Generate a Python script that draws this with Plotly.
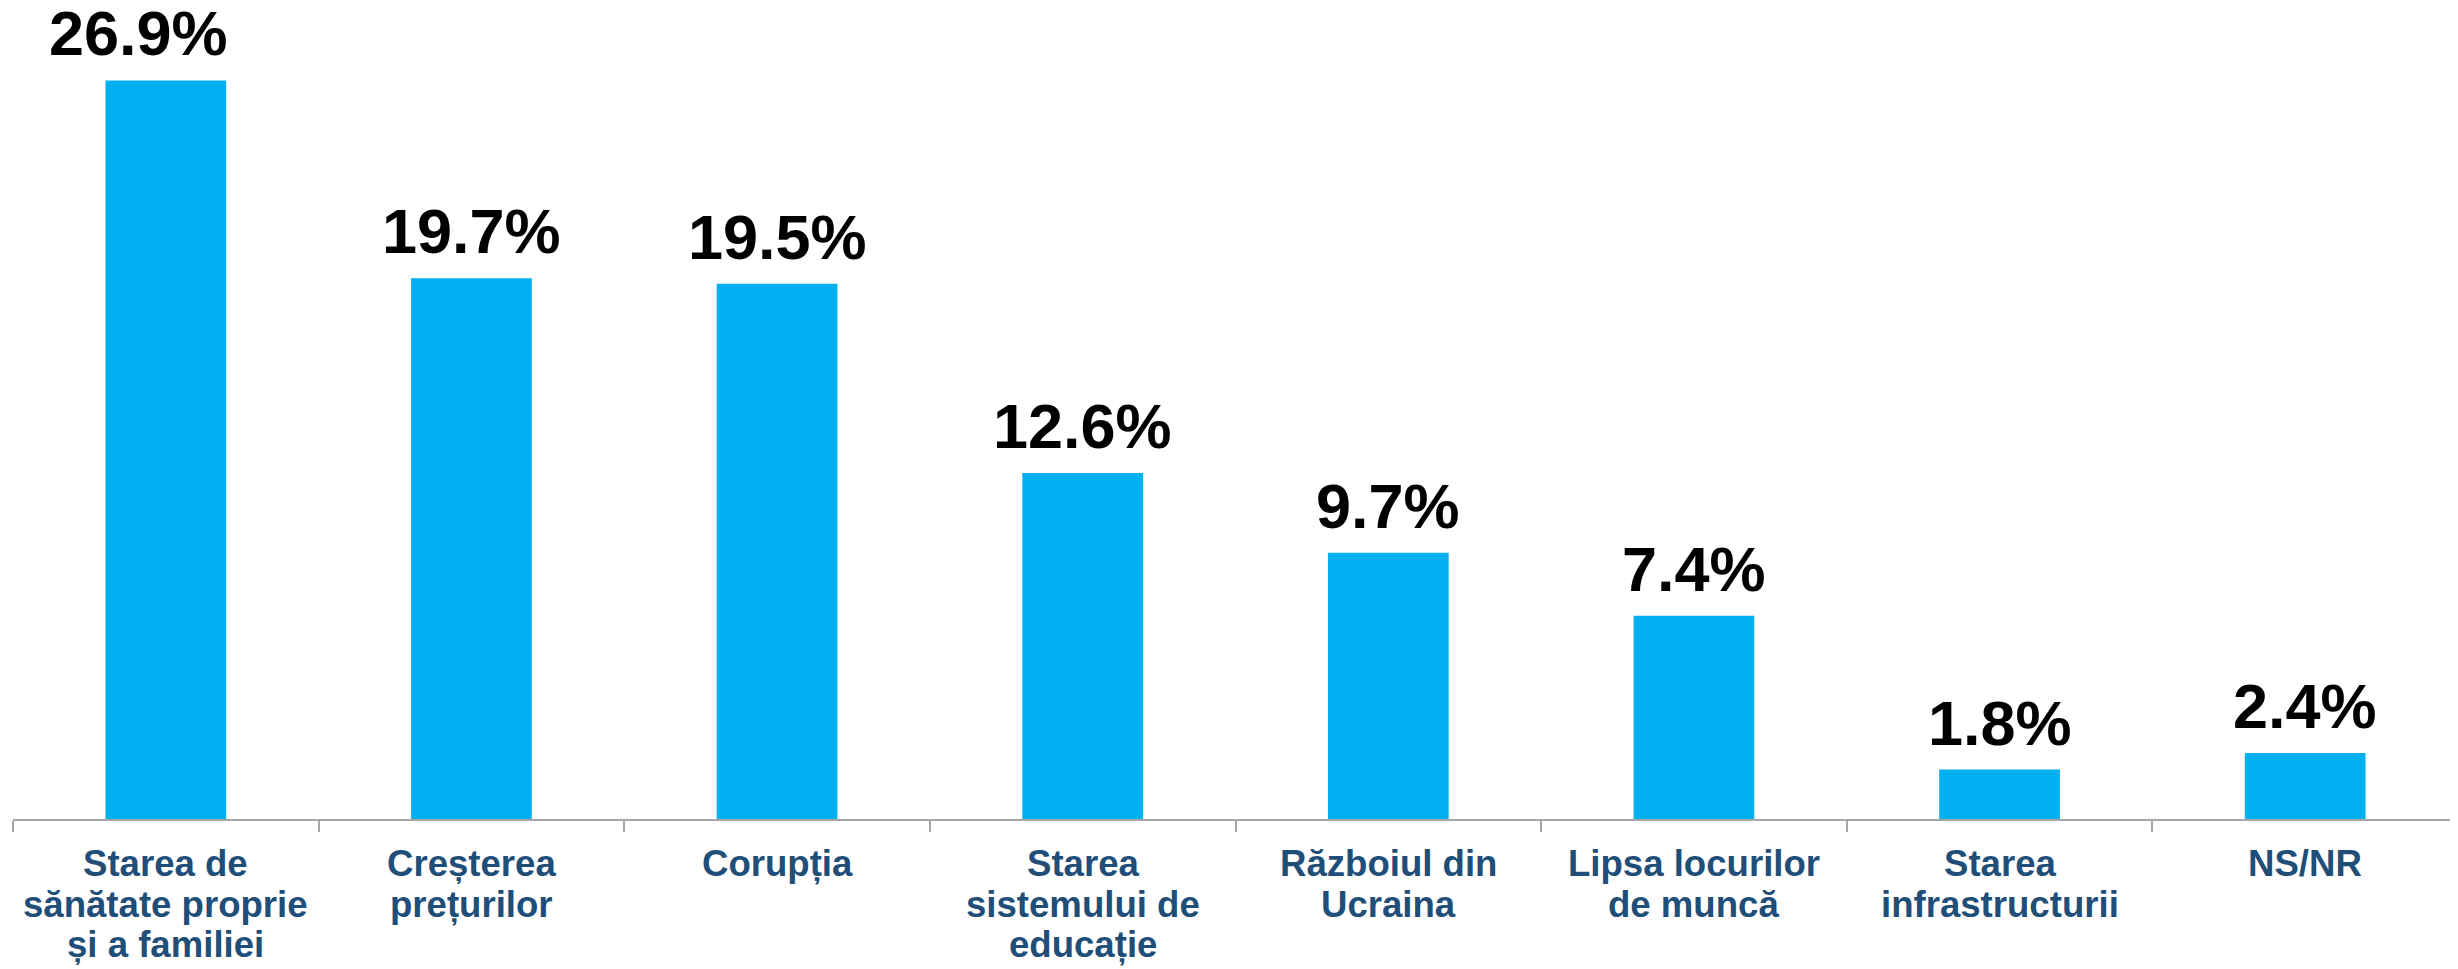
import plotly.graph_objects as go

categories = [
    "Starea de<br>sănătate proprie<br>și a familiei",
    "Creșterea<br>prețurilor",
    "Corupția",
    "Starea<br>sistemului de<br>educație",
    "Războiul din<br>Ucraina",
    "Lipsa locurilor<br>de muncă",
    "Starea<br>infrastructurii",
    "NS/NR",
]
values = [26.9, 19.7, 19.5, 12.6, 9.7, 7.4, 1.8, 2.4]
value_labels = ["26.9%", "19.7%", "19.5%", "12.6%", "9.7%", "7.4%", "1.8%", "2.4%"]

FONT = "Liberation Sans, Arial, sans-serif"

fig = go.Figure()
fig.add_trace(go.Bar(
    x=categories, y=values,
    marker=dict(color="#00B0F0", line=dict(width=0)),
    hoverinfo="skip",
))

# value labels above bars
for i, (c, v, t) in enumerate(zip(categories, values, value_labels)):
    fig.add_annotation(
        x=c, y=v, text=t, showarrow=False, yanchor="bottom", yshift=10,
        xshift=-27 if i == 0 else 0,
        font=dict(family=FONT, size=63, color="#000000", weight="bold"),
    )

# category labels, one annotation per line for tight line spacing
LINE_PITCH = 40.7
FIRST_OFFSET = 22
for c in categories:
    for j, line in enumerate(c.split("<br>")):
        fig.add_annotation(
            x=c, xref="x", y=0, yref="paper", text=line, showarrow=False,
            yanchor="top", xanchor="center",
            yshift=-(FIRST_OFFSET + j * LINE_PITCH),
            font=dict(family=FONT, size=36.6, color="#1F4E79", weight="bold"),
        )

fig.update_layout(
    width=2450, height=961,
    margin=dict(l=5, r=0, t=0, b=150),
    paper_bgcolor="white", plot_bgcolor="white",
    bargap=0.605,
    showlegend=False,
    xaxis=dict(
        showline=True, linecolor="#A6A6A6", linewidth=2,
        ticks="outside", tickson="boundaries", ticklen=11, tickcolor="#A6A6A6", tickwidth=1.5,
        showticklabels=False,
        showgrid=False, zeroline=False, fixedrange=True,
    ),
    yaxis=dict(
        range=[0, 29.54], visible=False, showgrid=False, zeroline=False, fixedrange=True,
    ),
)

fig.write_html("out.html")
